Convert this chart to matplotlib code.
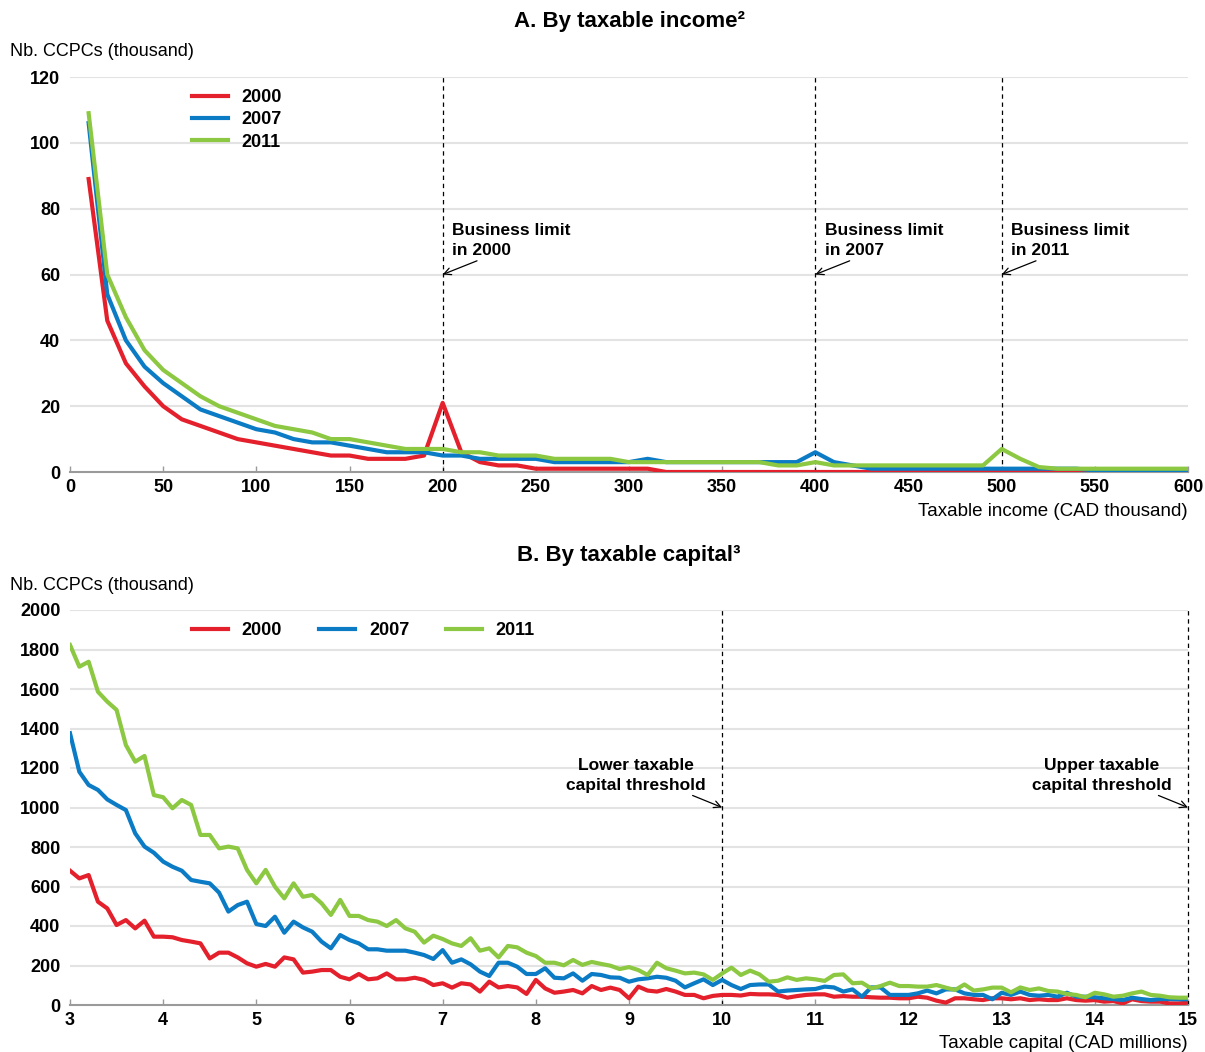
import matplotlib
matplotlib.use("Agg")
import numpy as np
import matplotlib.pyplot as plt

plt.rcParams['font.family'] = ['Liberation Sans Narrow', 'Liberation Sans', 'DejaVu Sans']

years = ['2000', '2007', '2011']
colors = ['#E3202B', '#0A7BC4', '#8CC841']

# Panel A: taxable income brackets (CAD thousand), 10 to 600
income = np.arange(10, 601, 10)
inc_2000 = [89, 46, 33, 26, 20, 16, 14, 12, 10, 9,
            8, 7, 6, 5, 5, 4, 4, 4, 5, 21,
            6, 3, 2, 2, 1, 1, 1, 1, 1, 1,
            1, 0, 0, 0, 0, 0, 0, 0, 0, 0,
            0, 0, 0, 0, 0, 0, 0, 0, 0, 0,
            0, 0, 0, 0, 0, 0, 0, 0, 0, 0]
inc_2007 = [106, 54, 40, 32, 27, 23, 19, 17, 15, 13,
            12, 10, 9, 9, 8, 7, 6, 6, 6, 5,
            5, 4, 4, 4, 4, 3, 3, 3, 3, 3,
            4, 3, 3, 3, 3, 3, 3, 3, 3, 6,
            3, 2, 1, 1, 1, 1, 1, 1, 1, 1,
            1, 1, 1, 1, 0.5, 0.5, 0.5, 0.5, 0.5, 0.5]
inc_2011 = [109, 60, 47, 37, 31, 27, 23, 20, 18, 16,
            14, 13, 12, 10, 10, 9, 8, 7, 7, 7,
            6, 6, 5, 5, 5, 4, 4, 4, 4, 3,
            3, 3, 3, 3, 3, 3, 3, 2, 2, 3,
            2, 2, 2, 2, 2, 2, 2, 2, 2, 7,
            4, 1.5, 1, 1, 1, 1, 1, 1, 1, 1]

# Panel B: taxable capital brackets (CAD millions), 3.0 to 15.0
capital = np.round(np.arange(3.0, 15.01, 0.1), 1)
cap_2000 = [680, 641, 658, 523, 489, 405, 430, 388, 427, 346,
            346, 343, 329, 321, 312, 236, 265, 265, 241, 211,
            194, 208, 194, 241, 231, 164, 169, 177, 177, 143,
            130, 157, 130, 135, 160, 130,
            130, 138, 127, 101, 110, 88, 110, 104, 68, 118,
            89, 96, 89, 56, 127, 84, 62, 68, 76, 59,
            96, 76, 88, 76, 34, 93, 73, 68, 81, 68,
            51, 51, 34, 46, 51, 51, 48, 56, 54, 54,
            51, 37,
            45, 51, 54, 54, 42, 45, 42, 42, 39, 37,
            37, 34, 34, 42, 37, 22, 12, 34, 34, 29,
            25, 34, 34, 29, 34, 25, 29, 25, 25, 34,
            25, 22, 25, 17, 20, 8, 29, 20, 17, 17,
            8, 8, 12]
cap_2007 = [1376, 1181, 1114, 1089, 1041, 1013, 987, 869, 802, 771,
            726, 700, 680, 633, 624, 616, 569, 473, 506, 523,
            410, 400, 447, 366, 422, 393, 371, 321, 287, 354,
            329, 312, 282, 282, 275, 275,
            275, 265, 253, 233, 278, 214, 231, 206, 169, 147,
            214, 214, 194, 157, 157, 186, 138, 135, 160, 123,
            157, 152, 140, 138, 118, 130, 135, 143, 138, 123,
            89, 110, 130, 101, 127, 101, 81, 101, 104, 104,
            68, 73,
            76, 79, 81, 93, 89, 68, 79, 42, 89, 89,
            51, 51, 51, 59, 73, 59, 79, 79, 59, 51,
            51, 29, 62, 51, 68, 51, 47, 51, 42, 62,
            42, 42, 39, 34, 30, 25, 37, 30, 25, 30,
            30, 29, 29]
cap_2011 = [1823, 1713, 1738, 1586, 1536, 1494, 1316, 1232, 1261, 1063,
            1052, 996, 1038, 1013, 861, 861, 793, 802, 793, 684,
            616, 684, 599, 540, 616, 548, 557, 515, 456, 532,
            451, 451, 430, 422, 400, 430,
            388, 371, 316, 351, 334, 312, 299, 338, 275, 287,
            241, 299, 292, 265, 248, 214, 214, 201, 228, 203,
            218, 208, 199, 182, 192, 177, 152, 214, 186, 174,
            160, 164, 155, 127, 160, 189, 152, 174, 155, 118,
            123, 140,
            127, 135, 130, 122, 152, 155, 110, 113, 84, 96,
            113, 96, 96, 93, 93, 101, 88, 76, 104, 73,
            79, 88, 88, 64, 89, 76, 84, 71, 68, 56,
            51, 39, 62, 54, 42, 47, 59, 68, 51, 47,
            39, 37, 37]

W, H = 1205, 1052
fig = plt.figure(figsize=(W / 100, H / 100), dpi=100)


def px_axes(left, top, right, bottom):
    return fig.add_axes([left / W, 1 - bottom / H, (right - left) / W, (bottom - top) / H])


def style(ax, yticks, xticks):
    for s in ['top', 'right', 'left']:
        ax.spines[s].set_visible(False)
    ax.spines['bottom'].set_color('#9a9a9a')
    ax.spines['bottom'].set_linewidth(1.5)
    ax.set_yticks(yticks)
    ax.set_xticks(xticks)
    ax.tick_params(axis='y', length=0, pad=7, labelsize=13)
    ax.tick_params(axis='x', direction='in', length=4, width=1, color='#9a9a9a',
                   pad=5, labelsize=13)
    for lab in ax.get_xticklabels() + ax.get_yticklabels():
        lab.set_fontweight('bold')
    for y in yticks[1:]:
        ax.axhline(y, color='#e3e3e3', lw=1.5, zorder=0)


def legend(ax, ncol, y):
    leg = ax.legend(loc='upper left', bbox_to_anchor=(0.098, y), frameon=False,
                    fontsize=13, ncol=ncol, handlelength=2.0, handletextpad=0.75,
                    labelspacing=0.3, columnspacing=2.05, borderaxespad=0.3)
    for t in leg.get_texts():
        t.set_fontweight('bold')


dash = (0, (3.5, 3))

# ---- A. By taxable income
axA = px_axes(70, 77, 1188, 472)
for vals, c, yr in zip([inc_2000, inc_2007, inc_2011], colors, years):
    axA.plot(income, vals, color=c, lw=3, label=yr, zorder=3)
axA.set_xlim(0, 600)
axA.set_ylim(0, 120)
style(axA, np.arange(0, 121, 20), np.arange(0, 601, 50))
for xv, yr in [(200, '2000'), (400, '2007'), (500, '2011')]:
    axA.axvline(xv, color='black', lw=0.9, ls=dash, zorder=2)
    axA.annotate('Business limit\nin ' + yr, xy=(xv, 60), xytext=(xv + 5, 65),
                 fontsize=12.5, fontweight='bold', ha='left', va='bottom',
                 linespacing=1.4,
                 arrowprops=dict(arrowstyle='->', color='black', lw=0.9,
                                 shrinkA=0, shrinkB=0, relpos=(0.27, 0)))
legend(axA, 1, 1.002)
fig.text(0.5 * (70 + 1188) / W, 1 - 22 / H, 'A. By taxable income²', ha='center',
         va='center', fontsize=16, fontweight='bold')
fig.text(10 / W, 1 - 52 / H, 'Nb. CCPCs (thousand)', ha='left', va='center', fontsize=13)
fig.text(1188 / W, 1 - 511 / H, 'Taxable income (CAD thousand)', ha='right',
         va='center', fontsize=13.5)

# ---- B. By taxable capital
axB = px_axes(70, 610, 1188, 1005)
for vals, c, yr in zip([cap_2000, cap_2007, cap_2011], colors, years):
    axB.plot(capital, vals, color=c, lw=3, label=yr, zorder=3)
axB.set_xlim(3, 15)
axB.set_ylim(0, 2000)
style(axB, np.arange(0, 2001, 200), np.arange(3, 16, 1))
axB.axvline(10, color='black', lw=0.9, ls=dash, zorder=2)
axB.axvline(15, color='black', lw=0.9, ls=dash, zorder=2, clip_on=False)
for xv, xt, txt in [(10, 9.07, 'Lower taxable\ncapital threshold'),
                    (15, 14.07, 'Upper taxable\ncapital threshold')]:
    axB.annotate(txt, xy=(xv, 1000), xytext=(xt, 1075),
                 fontsize=12.5, fontweight='bold', ha='center', va='bottom',
                 linespacing=1.4,
                 arrowprops=dict(arrowstyle='->', color='black', lw=0.9,
                                 shrinkA=0, shrinkB=0, relpos=(0.86, 0)))
legend(axB, 3, 1.002)
fig.text(0.5 * (70 + 1188) / W, 1 - 556 / H, 'B. By taxable capital³', ha='center',
         va='center', fontsize=16, fontweight='bold')
fig.text(10 / W, 1 - 585 / H, 'Nb. CCPCs (thousand)', ha='left', va='center', fontsize=13)
fig.text(1188 / W, 1 - 1043 / H, 'Taxable capital (CAD millions)', ha='right',
         va='center', fontsize=13.5)

fig.savefig('out.png', dpi=100)
